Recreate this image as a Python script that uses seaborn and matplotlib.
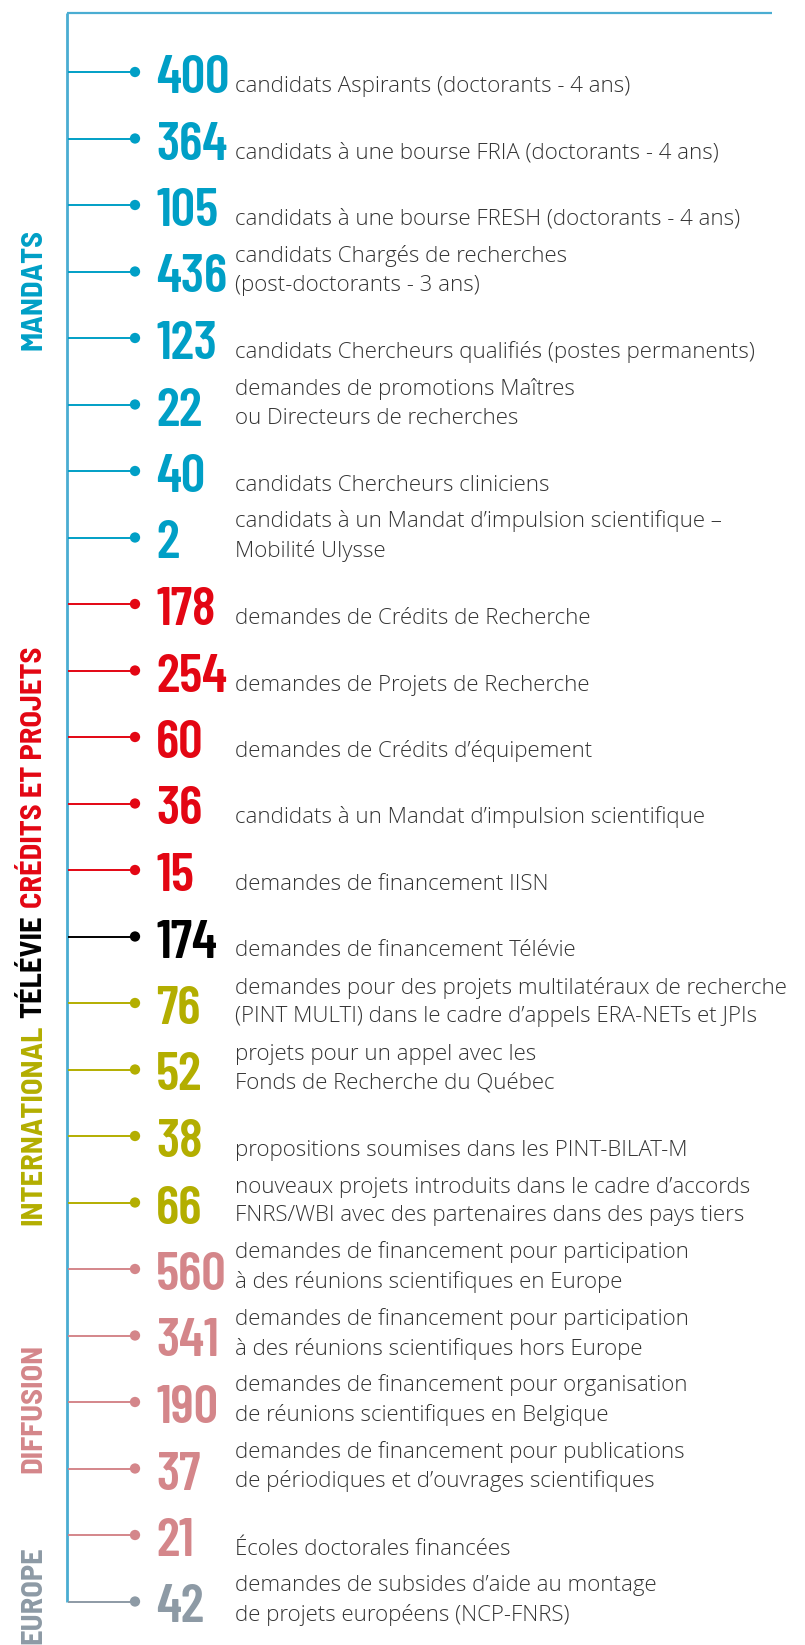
import pandas as pd
import seaborn as sns
import matplotlib.pyplot as plt

valeurs = [400, 364, 105, 436, 123, 22, 40, 2,
           178, 254, 60, 36, 15,
           174,
           76, 52, 38, 66,
           560, 341, 190, 37, 21,
           42]

groupes = (["mandats"] * 8 + ["credits"] * 5 + ["televie"]
           + ["international"] * 4 + ["diffusion"] * 5 + ["europe"])

libelles = [
    "candidats Aspirants (doctorants - 4 ans)",
    "candidats à une bourse FRIA (doctorants - 4 ans)",
    "candidats à une bourse FRESH (doctorants - 4 ans)",
    "candidats Chargés de recherches\n(post-doctorants - 3 ans)",
    "candidats Chercheurs qualifiés (postes permanents)",
    "demandes de promotions Maîtres\nou Directeurs de recherches",
    "candidats Chercheurs cliniciens",
    "candidats à un Mandat d’impulsion scientifique –\nMobilité Ulysse",
    "demandes de Crédits de Recherche",
    "demandes de Projets de Recherche",
    "demandes de Crédits d’équipement",
    "candidats à un Mandat d’impulsion scientifique",
    "demandes de financement IISN",
    "demandes de financement Télévie",
    "demandes pour des projets multilatéraux de recherche\n(PINT MULTI) dans le cadre d’appels ERA-NETs et JPIs",
    "projets pour un appel avec les\nFonds de Recherche du Québec",
    "propositions soumises dans les PINT-BILAT-M",
    "nouveaux projets introduits dans le cadre d’accords\nFNRS/WBI avec des partenaires dans des pays tiers",
    "demandes de financement pour participation\nà des réunions scientifiques en Europe",
    "demandes de financement pour participation\nà des réunions scientifiques hors Europe",
    "demandes de financement pour organisation\nde réunions scientifiques en Belgique",
    "demandes de financement pour publications\nde périodiques et d’ouvrages scientifiques",
    "Écoles doctorales financées",
    "demandes de subsides d’aide au montage\nde projets européens (NCP-FNRS)",
]

# couleur des lignes (le 21 est rose, le 42 gris)
palette = {
    "mandats": "#009fc6",
    "credits": "#e30613",
    "televie": "#000000",
    "international": "#b3ae00",
    "diffusion": "#d4868a",
    "europe": "#8d9aa5",
}
couleur_barre = "#4aadd2"
couleur_texte = "#333333"

df = pd.DataFrame({"rang": range(len(valeurs)), "valeur": valeurs,
                   "libelle": libelles, "groupe": groupes})

# --- mise en page (pixels) ---
W, H = 805, 1645
Y0, PAS = 72, 66.5          # centre de la 1re ligne, espacement
X_BARRE, X_POINT = 67, 135
X_NOMBRE, X_TEXTE = 156, 235


def px(p):
    # pixel vertical -> unité "rang"
    return (p - Y0) / PAS


sns.set_theme(style="white")
plt.rcParams["font.family"] = ["Open Sans", "DejaVu Sans"]

fig = plt.figure(figsize=(W / 100, H / 100), dpi=100)
ax = fig.add_axes([0, 0, 1, 1])
ax.set_xlim(0, W)
ax.set_ylim(px(H), px(0))
ax.axis("off")

# barre verticale + trait du haut
ax.vlines(X_BARRE, px(13), df["rang"].max(), color=couleur_barre, lw=2, zorder=1)
ax.hlines(px(13), X_BARRE, 772, color=couleur_barre, lw=1.6, zorder=1)

# connecteurs et points
for _, r in df.iterrows():
    ax.hlines(r["rang"], X_BARRE + 1, X_POINT, color=palette[r["groupe"]], lw=1.4, zorder=2)

df["x"] = X_POINT
sns.scatterplot(data=df, x="x", y="rang", hue="groupe", palette=palette,
                s=55, linewidth=0, legend=False, ax=ax, zorder=3)

police_chiffres = ["Barlow Condensed", "Roboto Condensed", "DejaVu Sans"]
police_titres = ["Barlow Semi Condensed", "Barlow Condensed", "DejaVu Sans"]

for _, r in df.iterrows():
    c = palette[r["groupe"]]
    ax.text(X_NOMBRE, r["rang"] + 21 / PAS, str(r["valeur"]), color=c,
            fontsize=39, fontweight=600, family=police_chiffres,
            ha="left", va="baseline")
    if "\n" in r["libelle"]:
        ax.text(X_TEXTE, r["rang"] + 19 / PAS, r["libelle"], color=couleur_texte,
                fontsize=16, fontweight="light", ha="left", va="baseline",
                linespacing=1.45)
    else:
        ax.text(X_TEXTE, r["rang"] + 20 / PAS, r["libelle"], color=couleur_texte,
                fontsize=16, fontweight="light", ha="left", va="baseline")

# titres de section verticaux
style_titre = dict(fontsize=22, fontweight="bold", family=police_titres,
                   rotation=90, ha="center")
ax.text(34, px(289), "MANDATS", color=palette["mandats"], va="center", **style_titre)
t1 = ax.text(34, px(1225), "INTERNATIONAL", color=palette["international"],
             va="bottom", **style_titre)
t2 = ax.annotate("TÉLÉVIE", xy=(0.5, 1), xycoords=t1, xytext=(0, 5),
                 textcoords="offset points", color="#000000", va="bottom", **style_titre)
ax.annotate("CRÉDITS ET PROJETS", xy=(0.5, 1), xycoords=t2, xytext=(0, 5),
            textcoords="offset points", color=palette["credits"], va="bottom", **style_titre)
ax.text(34, px(1408), "DIFFUSION", color=palette["diffusion"], va="center", **style_titre)
ax.text(34, px(1595), "EUROPE", color=palette["europe"], va="center", **style_titre)

fig.savefig("out.png", dpi=100, facecolor="white")
